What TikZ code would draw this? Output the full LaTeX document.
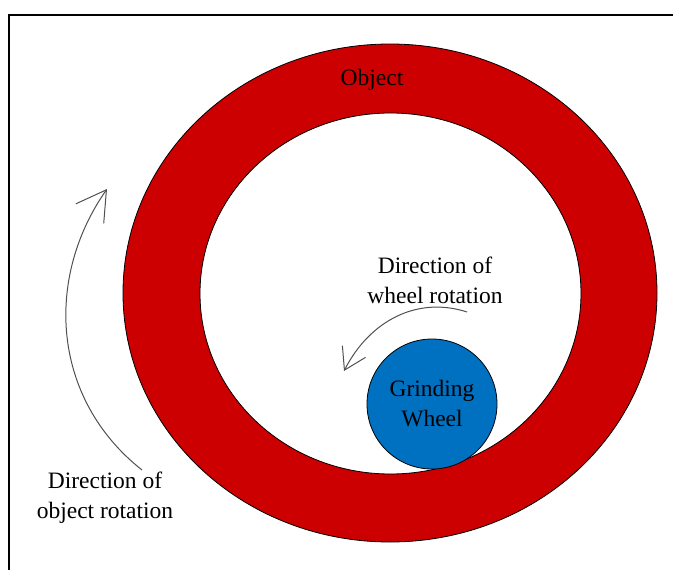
\documentclass[tikz,border=0pt]{standalone}
\usepackage{fontspec}
\setmainfont{Liberation Serif}
\usetikzlibrary{arrows.meta}
\definecolor{objred}{HTML}{CC0000}
\definecolor{wheelblue}{HTML}{0070C0}
\definecolor{arrowgray}{HTML}{505050}
\begin{document}
\begin{tikzpicture}[x=1pt,y=-1pt,
  lbl/.style={font=\fontsize{23.5}{30}\selectfont, align=center, inner sep=0pt, text=black},
  rotarrow/.style={draw=arrowgray, line width=1pt},
  frameline/.style={draw=black, line width=2pt}]
  \useasboundingbox (0,0) rectangle (673,570);
  % frame
  \coordinate (fl) at (9,570);
  \coordinate (ftl) at (9,15);
  \coordinate (fr) at (673,15);
  \draw[frameline] (fl) -- (ftl) -- (fr);
  % ring
  \fill[objred, even odd rule] (390,293) ellipse [x radius=267, y radius=249]
        (390.5,293.5) ellipse [x radius=190.5, y radius=180.5];
  \draw[black, line width=0.8pt] (390,293) ellipse [x radius=267, y radius=249];
  \draw[black, line width=0.8pt] (390.5,293.5) ellipse [x radius=190.5, y radius=180.5];
  \node[lbl] (object) at (372,80) {Object};
  % grinding wheel
  \node[circle, minimum size=130pt, inner sep=0pt, fill=wheelblue, draw=black, line width=0.8pt,
        lbl] (wheel) at (432,404) {Grinding\\Wheel};
  % labels
  \node[lbl] (wlabel) at (435,280) {Direction of\\wheel rotation};
  \node[lbl] (olabel) at (105,498) {Direction of\\object rotation};
  % arrows
  \coordinate (oa0) at (142,470);
  \coordinate (oa1) at (107,189);
  \draw[rotarrow, -{Straight Barb[length=29pt,width=34pt]}] (oa0) .. controls (52,399) and (44,279) .. (oa1);
  \coordinate (wa0) at (467,312);
  \coordinate (wa1) at (344,371);
  \draw[rotarrow, -{Straight Barb[length=21pt,width=26pt]}] (wa0) .. controls (418,296) and (370,320) .. (wa1);
\end{tikzpicture}
\end{document}
